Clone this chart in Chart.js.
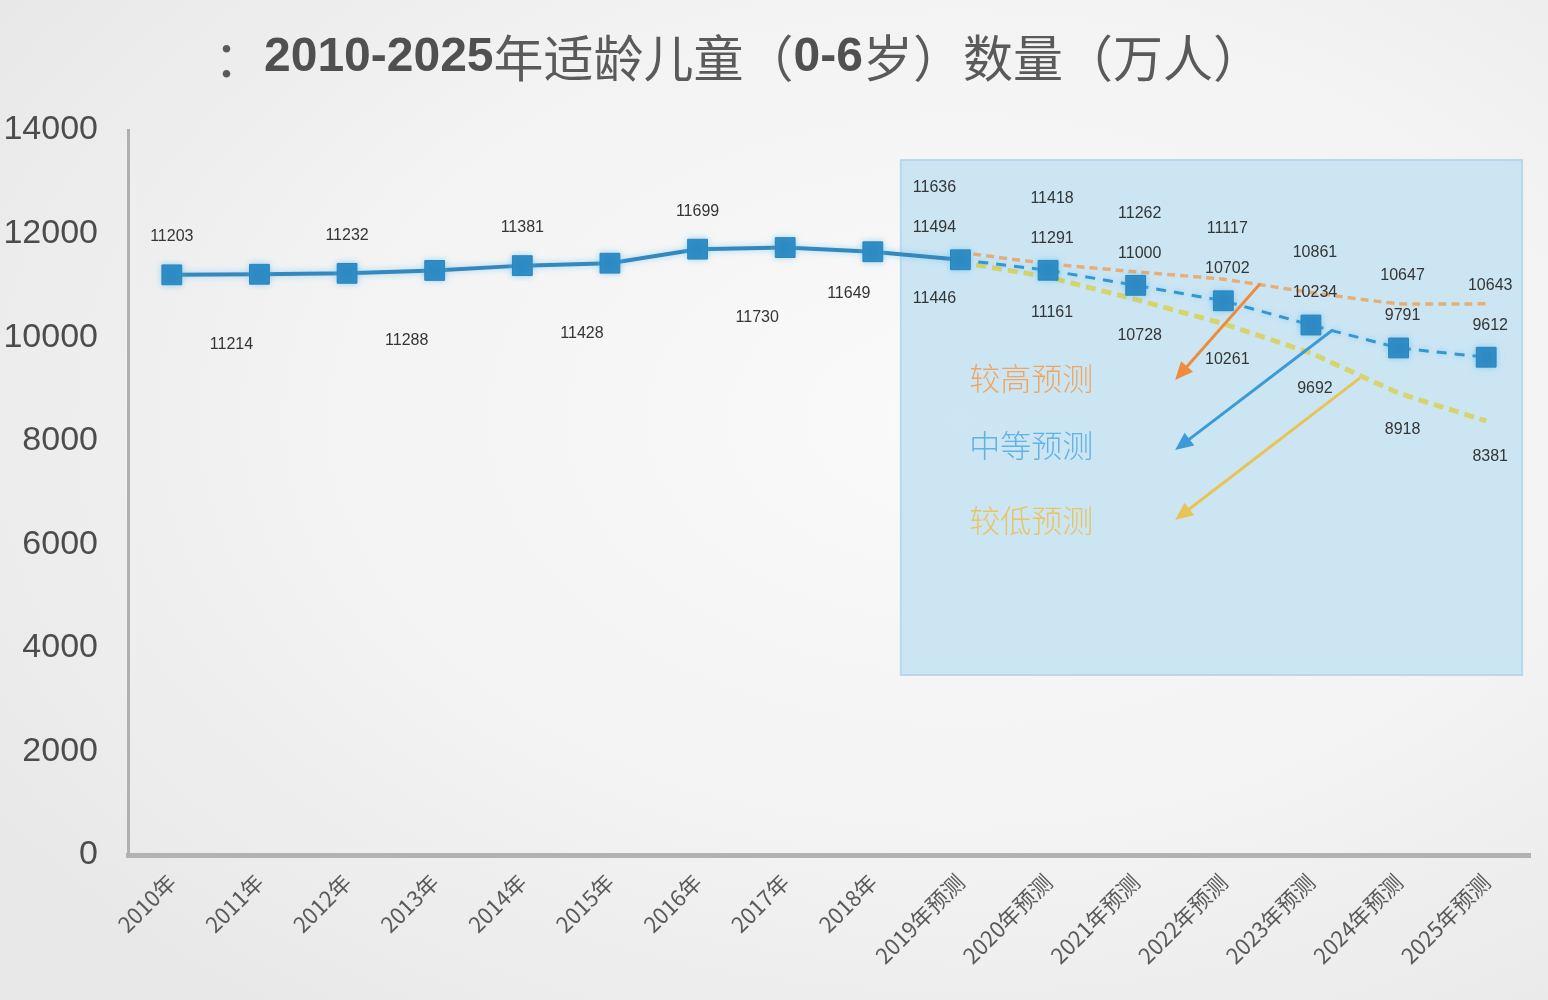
<!DOCTYPE html>
<html>
<head>
<meta charset="utf-8">
<script src="https://cdn.jsdelivr.net/npm/chart.js@4"></script>
<style>
html,body{margin:0;padding:0;width:1548px;height:1000px;overflow:hidden;
background: radial-gradient(ellipse 75% 75% at 62% 42%, #fafafa 0%, #f3f3f3 55%, #e8e8e8 100%);}
#wrap{position:absolute;left:0;top:0;width:1548px;height:1000px;}
canvas{display:block;}
</style>
</head>
<body>
<div id="wrap"><canvas id="c" width="1548" height="1000"></canvas></div>
<script>
// ---------- data ----------
const titleText = '：2010-2025年适龄儿童（0-6岁）数量（万人）';
const years = ['2010年','2011年','2012年','2013年','2014年','2015年','2016年','2017年','2018年',
  '2019年预测','2020年预测','2021年预测','2022年预测','2023年预测','2024年预测','2025年预测'];
const actual = [11203, 11214, 11232, 11288, 11381, 11428, 11699, 11730, 11649];
const forecastMid  = [11494, 11291, 11000, 10702, 10234, 9791, 9612];
const forecastHigh = [11636, 11418, 11262, 11117, 10861, 10647, 10643];
const forecastLow  = [11446, 11161, 10728, 10261, 9692, 8918, 8381];
const yTicks = [0, 2000, 4000, 6000, 8000, 10000, 12000, 14000];
const legendNames = ['较高预测', '中等预测', '较低预测'];

// ---------- derived series ----------
const nHist = actual.length;
const pad = new Array(nHist).fill(null);
const midSeries  = actual.concat(forecastMid);
const highSeries = pad.concat(forecastHigh);
const lowSeries  = pad.concat(forecastLow);

// ---------- styles ----------
const BLUE = '#2f8cc4';
const ORANGE_LINE = '#e6ae78';
const YELLOW_LINE = '#d6d46c';
const ARROW_COLORS = ['#ec8c3c', '#3c9ad6', '#e8c458'];
const LEGEND_COLORS = ['#eea664', '#62b2e2', '#e8c462'];
// annotation anchors in data space (category index, value)
const region = {x0: 8.32, x1: 15.41, y0: 3476, y1: 13421};
const arrows = [
  {from: [12.41, 11010], to: [11.45, 9172]},
  {from: [13.24, 10128], to: [11.45, 7821]},
  {from: [13.55, 9200],  to: [11.45, 6469]}
];
const legendAnchors = [[9.10, 9215], [9.10, 7917], [9.10, 6469]];

const histSide = ['up','down','up','down','up','down','up','down','near'];

const regionPlugin = {
  id: 'region',
  beforeDatasetsDraw(chart) {
    const {ctx, scales: {x, y}} = chart;
    const px0 = x.getPixelForValue(region.x0), px1 = x.getPixelForValue(region.x1);
    const py0 = y.getPixelForValue(region.y1), py1 = y.getPixelForValue(region.y0);
    ctx.save();
    ctx.fillStyle = 'rgba(196,226,242,0.85)';
    ctx.fillRect(px0, py0, px1 - px0, py1 - py0);
    ctx.strokeStyle = 'rgba(178,214,236,0.9)';
    ctx.lineWidth = 2;
    ctx.strokeRect(px0, py0, px1 - px0, py1 - py0);
    ctx.restore();
  }
};

const glowPlugin = {
  id: 'glow',
  beforeDatasetDraw(chart, args) {
    if (args.index === 0) {
      chart.ctx.shadowColor = 'rgba(90,190,240,0.55)';
      chart.ctx.shadowBlur = 6;
    }
  },
  afterDatasetDraw(chart, args) {
    if (args.index === 0) {
      chart.ctx.shadowColor = 'rgba(0,0,0,0)';
      chart.ctx.shadowBlur = 0;
    }
  }
};

function drawArrow(ctx, x0, y0, x1, y1, color) {
  const ang = Math.atan2(y1 - y0, x1 - x0);
  const len = 18, half = 8;
  const bx = x1 - len * Math.cos(ang), by = y1 - len * Math.sin(ang);
  ctx.save();
  ctx.strokeStyle = color; ctx.fillStyle = color;
  ctx.lineWidth = 3; ctx.lineCap = 'round';
  ctx.beginPath(); ctx.moveTo(x0, y0); ctx.lineTo(bx, by); ctx.stroke();
  ctx.beginPath();
  ctx.moveTo(x1, y1);
  ctx.lineTo(bx + half * Math.sin(ang), by - half * Math.cos(ang));
  ctx.lineTo(bx - half * Math.sin(ang), by + half * Math.cos(ang));
  ctx.closePath(); ctx.fill();
  ctx.restore();
}

const annotPlugin = {
  id: 'annot',
  afterDatasetsDraw(chart) {
    const {ctx, scales: {x, y}} = chart;
    // data labels
    ctx.save();
    ctx.font = '16px "Liberation Sans", Arial, sans-serif';
    ctx.fillStyle = '#353535';
    ctx.textAlign = 'center';
    ctx.textBaseline = 'middle';
    const midMeta = chart.getDatasetMeta(0).data;
    const lowMeta = chart.getDatasetMeta(2).data;
    for (let i = 0; i < nHist; i++) {
      const p = midMeta[i];
      const side = histSide[i];
      let dx = 0, dy = -38;
      if (side === 'down') { dx = -28; dy = 70; }
      if (side === 'near') { dx = -24; dy = 42; }
      ctx.fillText(String(actual[i]), p.x + dx, p.y + dy);
    }
    for (let j = 0; j < forecastMid.length; j++) {
      const i = nHist + j;
      const dx = j === 0 ? -26 : 4;
      const pm = midMeta[i], pl = lowMeta[i];
      const midY = pm.y - 32;
      ctx.fillText(String(forecastMid[j]), pm.x + dx, midY);
      ctx.fillText(String(forecastHigh[j]), pm.x + dx, midY - 40);
      ctx.fillText(String(forecastLow[j]), pl.x + dx, pl.y + 36);
    }
    ctx.restore();
    // arrows
    arrows.forEach((a, k) => {
      drawArrow(ctx, x.getPixelForValue(a.from[0]), y.getPixelForValue(a.from[1]),
        x.getPixelForValue(a.to[0]), y.getPixelForValue(a.to[1]), ARROW_COLORS[k]);
    });
    // legend texts
    ctx.save();
    ctx.font = '300 31px "Noto Sans CJK SC", sans-serif';
    ctx.textAlign = 'left';
    ctx.textBaseline = 'middle';
    legendNames.forEach((t, k) => {
      ctx.fillStyle = LEGEND_COLORS[k];
      ctx.fillText(t, x.getPixelForValue(legendAnchors[k][0]), y.getPixelForValue(legendAnchors[k][1]));
    });
    ctx.restore();
  }
};

const titlePlugin = {
  id: 'titleDraw',
  afterDraw(chart) {
    const ctx = chart.ctx;
    ctx.save();
    ctx.textBaseline = 'middle';
    const runs = titleText.match(/[\x00-\x7F]+|[^\x00-\x7F]+/g);
    let cx = 214;
    runs.forEach(r => {
      const ascii = /^[\x00-\x7F]+$/.test(r);
      ctx.font = ascii ? 'bold 48px "Liberation Sans", Arial, sans-serif'
                       : '50px "Noto Sans CJK SC", sans-serif';
      ctx.fillStyle = ascii ? '#505050' : '#5a5a5a';
      ctx.fillText(r, cx, 58);
      cx += ctx.measureText(r).width;
    });
    ctx.restore();
  }
};

new Chart(document.getElementById('c'), {
  type: 'line',
  data: {
    labels: years,
    datasets: [
      {
        label: '中等预测',
        data: midSeries,
        borderColor: BLUE,
        backgroundColor: BLUE,
        borderWidth: 3.5,
        pointStyle: 'rect',
        pointRadius: 14,
        pointHoverRadius: 14,
        pointBackgroundColor: '#2e8ac3',
        pointBorderColor: '#2a84bd',
        pointBorderWidth: 1,
        tension: 0,
        segment: {
          borderDash: ctx => ctx.p0DataIndex >= nHist ? [10, 8] : undefined,
          borderColor: ctx => ctx.p0DataIndex >= nHist ? '#3497d0' : '#3488bd',
          borderWidth: ctx => ctx.p0DataIndex >= nHist ? 3 : 4
        }
      },
      {
        label: '较高预测',
        data: highSeries,
        borderColor: ORANGE_LINE,
        borderWidth: 3.5,
        borderDash: [8, 5],
        pointRadius: 0,
        tension: 0.15
      },
      {
        label: '较低预测',
        data: lowSeries,
        borderColor: YELLOW_LINE,
        borderWidth: 5,
        borderDash: [10, 6],
        pointRadius: 0,
        tension: 0
      }
    ]
  },
  options: {
    responsive: false,
    animation: false,
    devicePixelRatio: 1,
    layout: {padding: {top: 130, right: 18, left: 0, bottom: 0}},
    plugins: {legend: {display: false}, title: {display: false}, tooltip: {enabled: false}},
    scales: {
      x: {
        type: 'category',
        offset: true,
        grid: {display: false, drawTicks: false},
        border: {display: true, color: '#b2b2b2', width: 5},
        ticks: {
          color: '#5a5a5a',
          font: {size: 22, family: '"Noto Sans CJK SC", "Liberation Sans", sans-serif'},
          minRotation: 45, maxRotation: 45, autoSkip: false, padding: 14
        },
        afterFit(s) { s.height = 145; }
      },
      y: {
        min: 0, max: 14000,
        afterBuildTicks(s) { s.ticks = yTicks.map(v => ({value: v})); },
        grid: {display: false, drawTicks: false},
        border: {display: true, color: '#b0b0b0', width: 3},
        ticks: {
          color: '#4c4c4c',
          font: {size: 34, family: '"Liberation Sans", Arial, sans-serif'},
          padding: 30,
          callback: v => String(v)
        },
        afterFit(s) { s.width = 128; }
      }
    }
  },
  plugins: [regionPlugin, glowPlugin, annotPlugin, titlePlugin]
});
</script>
</body>
</html>
